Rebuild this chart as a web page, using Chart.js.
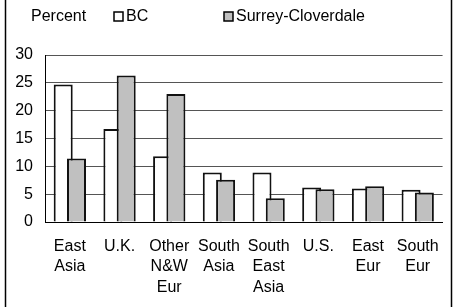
<!DOCTYPE html>
<html>
<head>
<meta charset="utf-8">
<script src="https://cdn.jsdelivr.net/npm/chart.js@4/dist/chart.umd.min.js"></script>
<style>
html,body{margin:0;padding:0;background:#fff;}
#wrap{position:relative;width:453px;height:307px;}
</style>
</head>
<body>
<div id="wrap"><canvas id="c" width="453" height="307"></canvas></div>
<script>
const categories = [["East","Asia"],["U.K."],["Other","N&W","Eur"],["South","Asia"],["South","East","Asia"],["U.S."],["East","Eur"],["South","Eur"]];
const seriesNames = ["BC","Surrey-Cloverdale"];
const bcValues = [24.7,16.7,11.8,8.9,8.9,6.2,6.0,5.8];
const scValues = [11.4,26.3,23.0,7.6,4.25,5.9,6.4,5.3];
const yTicks = [0,5,10,15,20,25,30];
const yAxisTitle = "Percent";

const FONT = '"Liberation Sans", Arial, sans-serif';
const legendX = [114, 224];

const drawOrderPlugin = {
  id: 'drawOrder',
  beforeDatasetDraw(chart) { return chart.$customDraw === true; },
  afterDatasetsDraw(chart) {
    chart.$customDraw = true;
    for (let i = 0; i < chart.data.datasets.length; i++) {
      chart.getDatasetMeta(i).controller.draw();
    }
    chart.$customDraw = false;
  }
};

const decoPlugin = {
  id: 'deco',
  afterDraw(chart) {
    const ctx = chart.ctx;
    ctx.save();
    ctx.font = '16px ' + FONT;
    ctx.fillStyle = '#000';
    ctx.textBaseline = 'alphabetic';
    ctx.fillText(yAxisTitle, 31, 21);
    chart.data.datasets.forEach((ds, i) => {
      const x = legendX[i];
      ctx.fillStyle = ds.backgroundColor;
      ctx.fillRect(x, 12, 9, 9);
      ctx.strokeStyle = '#000';
      ctx.lineWidth = 1.5;
      ctx.strokeRect(x, 12, 9, 9);
      ctx.fillStyle = '#000';
      ctx.fillText(ds.label, x + 12, 21);
    });
    ctx.strokeStyle = '#000';
    ctx.lineWidth = 1.5;
    ctx.beginPath();
    ctx.moveTo(5.5, 0); ctx.lineTo(5.5, 307);
    ctx.moveTo(451.5, 0); ctx.lineTo(451.5, 307);
    ctx.stroke();
    ctx.restore();
  }
};

new Chart(document.getElementById('c'), {
  type: 'bar',
  data: {
    labels: categories,
    datasets: [
      { label: seriesNames[0], data: bcValues, backgroundColor: '#ffffff', borderColor: '#111', borderWidth: 2 },
      { label: seriesNames[1], data: scValues, backgroundColor: '#c0c0c0', borderColor: '#111', borderWidth: 2 }
    ]
  },
  options: {
    responsive: false,
    devicePixelRatio: 1,
    animation: false,
    categoryPercentage: 0.535,
    barPercentage: 1.43,
    layout: { padding: { top: 55, left: 0, right: 6, bottom: 0 } },
    plugins: { legend: { display: false }, tooltip: { enabled: false }, title: { display: false } },
    scales: {
      x: {
        grid: { display: false, drawTicks: false },
        border: { display: true, color: '#000', width: 1 },
        ticks: { color: '#000', font: { family: FONT, size: 16, lineHeight: 1.28 }, padding: 14, maxRotation: 0, autoSkip: false },
        afterFit(axis) { axis.height = 85; }
      },
      y: {
        min: 0, max: 30,
        afterBuildTicks(axis) { axis.ticks = yTicks.map(v => ({ value: v })); },
        grid: { color: '#555', lineWidth: 1, drawTicks: false },
        border: { display: true, color: '#000', width: 1 },
        ticks: { color: '#000', font: { family: FONT, size: 16 }, padding: 12 },
        afterFit(axis) { axis.width = 45; }
      }
    }
  },
  plugins: [drawOrderPlugin, decoPlugin]
});
</script>
</body>
</html>
